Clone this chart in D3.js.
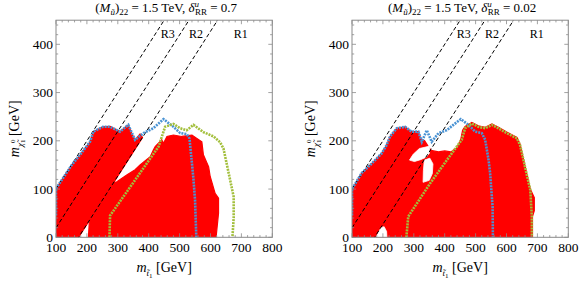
<!DOCTYPE html>
<html><head><meta charset="utf-8">
<script src="https://cdn.jsdelivr.net/npm/d3@7"></script>
<style>
body{margin:0;background:#fff;}
</style></head>
<body><svg id="c" width="581" height="291" font-family="'Liberation Serif', 'Times New Roman', serif"></svg>
<script>
// ---- data (GeV) ----
const xTicks = [100,200,300,400,500,600,700,800];
const yTicks = [0,100,200,300,400];
const dashedOffsets = [0, 80.4, 173];          // m_chi = m_stop - offset
const regionLabels = [["R3",462],["R2",553],["R1",698]]; // label, m_stop at label centre
const titles = ["0.7","0.02"];

// left panel (delta = 0.7): excluded (red) areas, white holes, contours
const leftRed = [
  [[100,0],[100,101],[151,150],[178,171],[210,198],[221,219],[252,229],[275,230],[290,225],[307,219],[320,226],[334,233],[345,215],[356,202],[372,214],[380,207],[173,0]],
  [[205,0],[210,57],[232,63],[243,84],[264,108],[297,115],[329,129],[356,140],[372,150],[405,167],[415,181],[421,188],[442,202],[448,195],[459,209],[480,212],[507,209],[540,212],[556,205],[572,198],[577,171],[594,146],[599,126],[615,91],[626,81],[626,50],[618,0]]
];
const leftHoles = [];
const leftBlue = [[100,45],[100,101],[151,150],[178,171],[210,198],[221,219],[252,229],[275,229],[307,219],[334,233],[356,202],[383,216],[415,226],[448,245],[480,229],[502,216],[523,214],[532,205],[540,153],[545,119],[550,77],[554,0]];
const leftGreen = [[273,0],[275,45],[432,188],[453,229],[480,235],[502,226],[523,222],[545,233],[577,218],[610,209],[631,197],[642,184],[675,84],[675,40],[671,0]];

// right panel (delta = 0.02)
const rightRed = [
  [[100,0],[100,100],[131,133],[164,153],[196,174],[212,191],[223,209],[245,226],[272,229],[293,219],[315,219],[322,205],[335,200],[345,190],[356,180],[380,177],[400,179],[420,177],[440,186],[452,203],[458,222],[466,230],[488,238],[509,231],[531,228],[553,235],[574,228],[601,218],[634,207],[644,193],[655,162],[677,100],[690,82],[690,55],[684,43],[684,0]]
];
const rightHoles = [
  [[286,160],[298,172],[318,184],[352,189],[350,174],[340,166],[322,161],[302,157]],
  [[330,114],[331,138],[334,160],[352,164],[362,152],[360,132],[350,118]],
  [[178,0],[213,0],[212,12],[204,22],[194,20],[184,8]]
];
const rightBlue = [[100,45],[100,100],[131,133],[164,153],[196,174],[212,191],[223,209],[245,226],[272,229],[293,219],[315,219],[326,198],[342,222],[358,198],[380,216],[407,222],[428,233],[452,245],[477,233],[499,219],[520,216],[531,202],[542,160],[547,133],[555,63],[556,0]];
const rightGreen = [[276,0],[282,43],[353,112],[407,160],[455,202],[466,226],[488,236],[509,229],[531,226],[553,233],[574,226],[601,216],[634,205],[644,191],[655,160],[677,98],[682,43],[682,0]];

const panels = [
  {off:0, delta:titles[0], red:leftRed, holes:leftHoles, blue:leftBlue, green:leftGreen},
  {off:296, delta:titles[1], red:rightRed, holes:rightHoles, blue:rightBlue, green:rightGreen}
];

const svg = d3.select("#c");
const RED = "#ff0000", BLUE = "#4a93d4", GREEN = "#a3bf3c", FRAME = "#8a8a8a";

panels.forEach((p,i)=>{
  const x = d3.scaleLinear().domain([100,800]).range([56+p.off, 272.3+p.off]);
  const y = d3.scaleLinear().domain([0,450]).range([237.3, 20.2]);
  const g = svg.append("g");
  const cid = "clip"+i;
  g.append("clipPath").attr("id",cid).append("rect")
    .attr("x",x(100)).attr("y",y(450)).attr("width",x(800)-x(100)).attr("height",y(0)-y(450));
  const pg = g.append("g").attr("clip-path",`url(#${cid})`);
  const area = d3.line().x(d=>x(d[0])).y(d=>y(d[1]));
  p.red.forEach(poly=>{
    pg.append("path").attr("d",area(poly)+"Z").attr("fill",RED).attr("stroke",RED).attr("stroke-width",1.2);
  });
  p.holes.forEach(poly=>{
    pg.append("path").attr("d",area(poly)+"Z").attr("fill","#fff").attr("stroke","#fff").attr("stroke-width",0.8);
  });
  dashedOffsets.forEach(o=>{
    pg.append("line").attr("x1",x(100)).attr("y1",y(100-o)).attr("x2",x(450+o)).attr("y2",y(450))
      .attr("stroke","#000").attr("stroke-width",1).attr("stroke-dasharray","4,2.5");
  });
  pg.append("path").attr("d",area(p.blue)).attr("fill","none").attr("stroke",BLUE)
    .attr("stroke-width",2.6).attr("stroke-dasharray","2,1");
  pg.append("path").attr("d",area(p.green)).attr("fill","none").attr("stroke",GREEN)
    .attr("stroke-width",2.6).attr("stroke-dasharray","2,1");
  regionLabels.forEach(([t,m])=>{
    g.append("text").attr("x",x(m)).attr("y",38).attr("text-anchor","middle").attr("font-size",12).text(t);
  });
  g.append("rect").attr("x",x(100)).attr("y",y(450)).attr("width",x(800)-x(100)).attr("height",y(0)-y(450))
    .attr("fill","none").attr("stroke",FRAME).attr("stroke-width",1);
  const tg = g.append("g").attr("stroke",FRAME).attr("stroke-width",0.8);
  d3.range(100,801,20).forEach(v=>{
    const L = v%100===0?4:2.2;
    tg.append("line").attr("x1",x(v)).attr("x2",x(v)).attr("y1",y(0)).attr("y2",y(0)-L);
    tg.append("line").attr("x1",x(v)).attr("x2",x(v)).attr("y1",y(450)).attr("y2",y(450)+L);
  });
  d3.range(0,451,20).forEach(v=>{
    const L = v%100===0?4:2.2;
    tg.append("line").attr("y1",y(v)).attr("y2",y(v)).attr("x1",x(100)).attr("x2",x(100)+L);
    tg.append("line").attr("y1",y(v)).attr("y2",y(v)).attr("x1",x(800)).attr("x2",x(800)-L);
  });
  xTicks.forEach(v=>{
    g.append("text").attr("x",x(v)).attr("y",252).attr("text-anchor","middle").attr("font-size",13.5).text(v);
  });
  yTicks.forEach(v=>{
    g.append("text").attr("x",x(100)-3).attr("y",y(v)+4.6).attr("text-anchor","end").attr("font-size",13.5).text(v);
  });
  const cx = (x(100)+x(800))/2 + 2;
  const t = g.append("text").attr("x",cx).attr("y",12).attr("text-anchor","middle").attr("font-size",13);
  t.append("tspan").text("(");
  t.append("tspan").attr("font-style","italic").text("M");
  t.append("tspan").attr("font-size",9).attr("font-style","italic").attr("dy",3).text("ũ");
  t.append("tspan").attr("dy",-3).text(")");
  t.append("tspan").attr("font-size",9).attr("dy",3).text("22");
  t.append("tspan").attr("dy",-3).text(" = 1.5 TeV, ");
  t.append("tspan").attr("font-style","italic").text("δ");
  t.append("tspan").attr("font-size",9).attr("font-style","italic").attr("dy",-5).text("u");
  t.append("tspan").attr("font-size",9).attr("dx",-4).attr("dy",8).text("RR");
  t.append("tspan").attr("dy",-3).text(" = "+p.delta);
  const xl = g.append("text").attr("x",cx-2).attr("y",272).attr("text-anchor","middle").attr("font-size",14);
  xl.append("tspan").attr("font-style","italic").text("m");
  xl.append("tspan").attr("font-size",9).attr("font-style","italic").attr("dy",4).text("t̃");
  xl.append("tspan").attr("font-size",7).attr("dy",2).text("1");
  xl.append("tspan").attr("dy",-6).text("  [GeV]");
  const yl = g.append("text").attr("transform",`translate(${x(100)-37},${(y(0)+y(450))/2}) rotate(-90)`)
    .attr("text-anchor","middle").attr("font-size",14);
  yl.append("tspan").attr("font-style","italic").text("m");
  yl.append("tspan").attr("font-size",9).attr("font-style","italic").attr("dy",4).text("χ̃");
  yl.append("tspan").attr("font-size",7).attr("dy",-8).text("0");
  yl.append("tspan").attr("font-size",7).attr("dx",-3.5).attr("dy",10).text("1");
  yl.append("tspan").attr("dy",-6).text("  [GeV]");
});
</script></body></html>
